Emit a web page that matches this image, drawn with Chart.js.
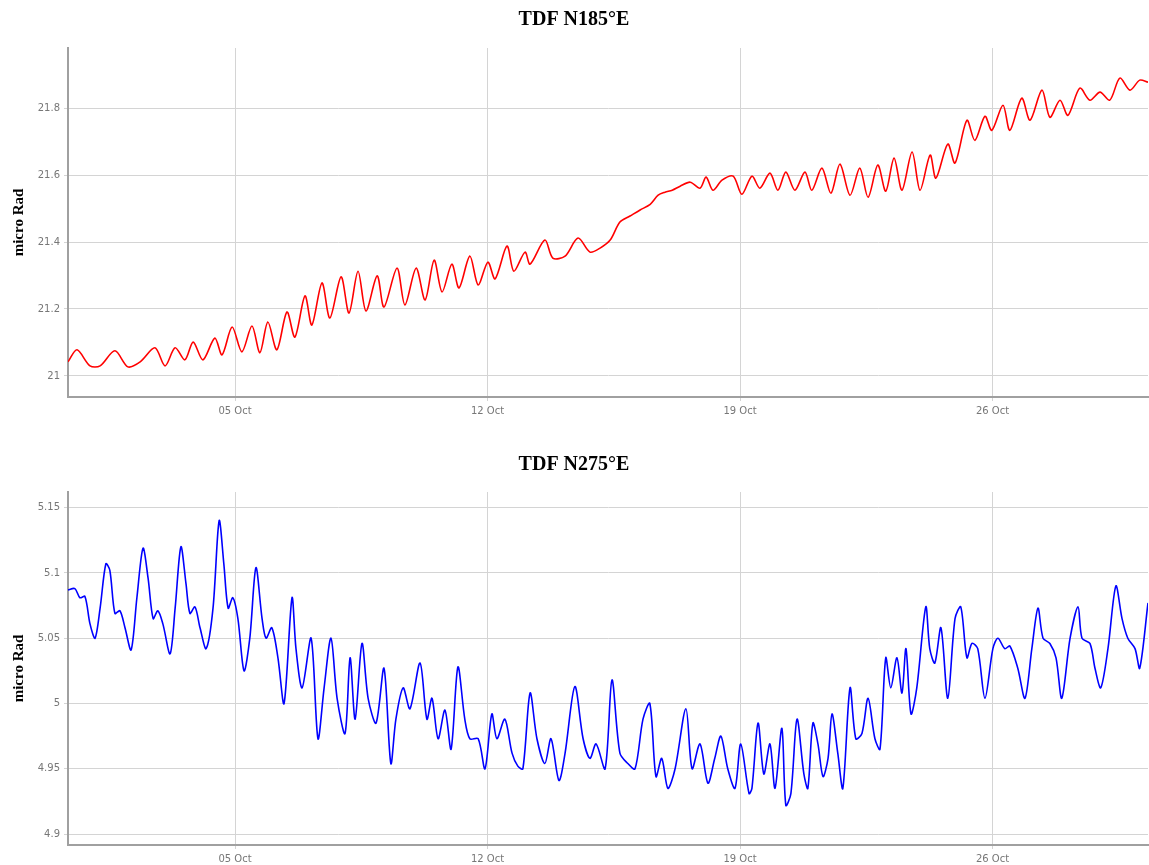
<!DOCTYPE html>
<html>
<head>
<meta charset="utf-8">
<script src="https://cdn.jsdelivr.net/npm/chart.js@4"></script>
<style>
    body { margin: 0; background: #fff; }
    .box { position: absolute; left: 0; width: 1149px; }
    #boxTop { top: 0; height: 430px; }
    #boxBottom { top: 440px; height: 425px; }
</style>
</head>
<body>
<div class="box" id="boxTop"><canvas id="chartTop"></canvas></div>
<div class="box" id="boxBottom"><canvas id="chartBottom"></canvas></div>
<script>
// Tilt records, x in days of October
const xTickDays = [5, 12, 19, 26];
const xTickLabels = ['05 Oct', '12 Oct', '19 Oct', '26 Oct'];

const yTicksTop = [21, 21.2, 21.4, 21.6, 21.8];
const yTicksBottom = [4.9, 4.95, 5, 5.05, 5.1, 5.15];

// N185°E
const daysTop = [0.37, 0.62, 0.98, 1.26, 1.67, 2.03, 2.37, 2.78, 3.06, 3.34, 3.61, 3.84, 4.11, 4.44, 4.64, 4.92,
    5.19, 5.47, 5.69, 5.91, 6.16, 6.44, 6.66, 6.94, 7.13, 7.41, 7.63, 7.94, 8.16, 8.41, 8.63, 8.94, 9.13, 9.49,
    9.71, 10.02, 10.27, 10.52, 10.74, 11.01, 11.21, 11.51, 11.74, 12.01, 12.21, 12.54, 12.73, 13.04, 13.18, 13.59,
    13.81, 14.15, 14.51, 14.84, 15.12, 15.40, 15.67, 15.95, 16.23, 16.51, 16.73, 16.92, 17.12, 17.34, 17.62, 17.89,
    18.06, 18.25, 18.50, 18.81, 19.05, 19.33, 19.55, 19.83, 20.05, 20.27, 20.52, 20.80, 20.99, 21.27, 21.52, 21.77,
    22.05, 22.32, 22.55, 22.82, 23.04, 23.27, 23.49, 23.77, 23.99, 24.27, 24.43, 24.76, 24.96, 25.29, 25.51, 25.79,
    25.98, 26.29, 26.48, 26.81, 27.04, 27.37, 27.59, 27.87, 28.09, 28.42, 28.70, 28.98, 29.25, 29.53, 29.81, 30.08, 30.31];
const tiltTop = [21.042, 21.078, 21.030, 21.030, 21.075, 21.027, 21.042, 21.084, 21.030, 21.084, 21.048, 21.101,
    21.048, 21.113, 21.063, 21.146, 21.072, 21.149, 21.069, 21.161, 21.078, 21.191, 21.116, 21.239, 21.152, 21.278,
    21.173, 21.296, 21.188, 21.313, 21.194, 21.299, 21.206, 21.322, 21.212, 21.322, 21.227, 21.346, 21.251, 21.334,
    21.263, 21.358, 21.272, 21.340, 21.290, 21.388, 21.313, 21.370, 21.334, 21.406, 21.352, 21.358, 21.412, 21.370,
    21.382, 21.406, 21.460, 21.478, 21.496, 21.513, 21.540, 21.549, 21.555, 21.567, 21.579, 21.561, 21.594, 21.555,
    21.585, 21.597, 21.543, 21.597, 21.561, 21.606, 21.555, 21.609, 21.555, 21.609, 21.555, 21.621, 21.546, 21.633,
    21.540, 21.621, 21.534, 21.630, 21.552, 21.651, 21.555, 21.669, 21.555, 21.660, 21.591, 21.693, 21.636, 21.764,
    21.704, 21.776, 21.734, 21.809, 21.734, 21.830, 21.764, 21.854, 21.773, 21.824, 21.779, 21.860, 21.824, 21.848,
    21.824, 21.890, 21.854, 21.884, 21.878];

// N275°E
const daysBottom = [0.37, 0.56, 0.70, 0.84, 0.98, 1.12, 1.26, 1.42, 1.53, 1.67, 1.81, 1.95, 2.12, 2.28, 2.45, 2.59,
    2.73, 2.86, 3.00, 3.20, 3.34, 3.50, 3.64, 3.75, 3.89, 4.03, 4.20, 4.39, 4.56, 4.69, 4.81, 4.94, 5.08, 5.25, 5.41,
    5.58, 5.75, 5.86, 6.02, 6.19, 6.36, 6.58, 6.69, 6.86, 7.11, 7.30, 7.47, 7.66, 7.83, 8.05, 8.19, 8.33, 8.52, 8.69,
    8.91, 9.13, 9.32, 9.46, 9.66, 9.85, 10.13, 10.32, 10.46, 10.63, 10.82, 10.99, 11.18, 11.37, 11.51, 11.74, 11.93,
    12.12, 12.26, 12.48, 12.68, 12.84, 12.98, 13.18, 13.37, 13.59, 13.76, 13.98, 14.15, 14.42, 14.65, 14.84, 15.01,
    15.26, 15.45, 15.67, 15.89, 16.09, 16.31, 16.50, 16.67, 16.83, 17.00, 17.20, 17.50, 17.67, 17.89, 18.11, 18.30,
    18.47, 18.66, 18.86, 19.02, 19.25, 19.33, 19.50, 19.66, 19.83, 19.97, 20.16, 20.27, 20.41, 20.58, 20.77, 20.88,
    21.02, 21.16, 21.30, 21.44, 21.55, 21.71, 21.85, 22.05, 22.21, 22.38, 22.55, 22.74, 22.88, 23.04, 23.18, 23.35,
    23.49, 23.60, 23.74, 23.90, 24.15, 24.26, 24.40, 24.57, 24.76, 24.96, 25.12, 25.29, 25.43, 25.59, 25.79, 26.01,
    26.15, 26.34, 26.48, 26.70, 26.90, 27.09, 27.26, 27.40, 27.59, 27.76, 27.92, 28.15, 28.37, 28.48, 28.70, 28.84,
    29.00, 29.20, 29.42, 29.59, 29.75, 29.95, 30.08, 30.31];
const tiltBottom = [5.087, 5.088, 5.081, 5.082, 5.061, 5.050, 5.073, 5.107, 5.102, 5.069, 5.071, 5.058, 5.041,
    5.081, 5.119, 5.096, 5.065, 5.071, 5.061, 5.038, 5.073, 5.120, 5.092, 5.069, 5.074, 5.058, 5.042, 5.073, 5.140,
    5.107, 5.073, 5.081, 5.065, 5.025, 5.050, 5.104, 5.065, 5.050, 5.058, 5.035, 5.000, 5.081, 5.042, 5.012, 5.050,
    4.973, 5.012, 5.050, 5.004, 4.977, 5.035, 4.988, 5.046, 5.004, 4.985, 5.027, 4.954, 4.988, 5.012, 4.996, 5.031,
    4.988, 5.004, 4.973, 4.995, 4.965, 5.028, 4.988, 4.973, 4.973, 4.950, 4.992, 4.973, 4.988, 4.962, 4.952, 4.950,
    5.008, 4.973, 4.954, 4.973, 4.941, 4.962, 5.013, 4.973, 4.958, 4.969, 4.950, 5.018, 4.962, 4.954, 4.950, 4.988,
    5.000, 4.944, 4.958, 4.935, 4.950, 4.996, 4.950, 4.969, 4.939, 4.958, 4.975, 4.950, 4.935, 4.969, 4.931, 4.935,
    4.985, 4.946, 4.969, 4.935, 4.981, 4.922, 4.931, 4.988, 4.946, 4.935, 4.985, 4.969, 4.944, 4.958, 4.992, 4.962,
    4.935, 5.012, 4.973, 4.977, 5.004, 4.973, 4.965, 5.035, 5.012, 5.035, 5.008, 5.042, 4.992, 5.012, 5.074, 5.042,
    5.031, 5.058, 5.004, 5.065, 5.074, 5.035, 5.046, 5.042, 5.004, 5.042, 5.050, 5.042, 5.044, 5.027, 5.004, 5.042,
    5.073, 5.050, 5.046, 5.035, 5.004, 5.050, 5.074, 5.050, 5.046, 5.027, 5.012, 5.042, 5.090, 5.065, 5.050, 5.042,
    5.027, 5.077];

const gridColor = '#d4d4d4';
const axisColor = '#a0a0a0';
const tickColor = '#777';

function makeTiltChart(canvasId, title, days, values, color, yTicks, yMin, yMax, titlePad, xHeight) {
    const points = days.map((d, i) => ({ x: d, y: values[i] }));
    return new Chart(document.getElementById(canvasId), {
        type: 'line',
        data: {
            datasets: [{
                data: points,
                borderColor: color,
                backgroundColor: 'transparent',
                borderWidth: 1.6,
                pointRadius: 0,
                tension: 0.3
            }]
        },
        options: {
            responsive: true,
            maintainAspectRatio: false,
            animation: false,
            layout: { padding: { left: 0, right: 1, top: 0, bottom: 0 } },
            plugins: {
                legend: { display: false },
                tooltip: { enabled: false },
                title: {
                    display: true,
                    text: title,
                    color: '#000',
                    font: { family: 'Liberation Serif', size: 20, weight: 'bold' },
                    padding: titlePad
                }
            },
            scales: {
                x: {
                    type: 'linear',
                    min: 0.37,
                    max: 30.31,
                    afterBuildTicks: scale => { scale.ticks = xTickDays.map(v => ({ value: v })); },
                    afterFit: scale => { scale.height = xHeight; },
                    ticks: {
                        color: tickColor,
                        maxRotation: 0,
                        padding: 4,
                        font: { family: 'DejaVu Sans', size: 10 },
                        callback: value => xTickLabels[xTickDays.indexOf(value)]
                    },
                    grid: { color: gridColor, tickLength: 4 },
                    border: { color: axisColor, width: 2 }
                },
                y: {
                    min: yMin,
                    max: yMax,
                    afterBuildTicks: scale => { scale.ticks = yTicks.map(v => ({ value: v })); },
                    afterFit: scale => { scale.width = 68; },
                    title: {
                        display: true,
                        text: 'micro Rad',
                        color: '#000',
                        font: { family: 'Liberation Serif', size: 15, weight: 'bold' },
                        padding: { top: 10, bottom: 0 }
                    },
                    ticks: {
                        color: tickColor,
                        padding: 4,
                        font: { family: 'DejaVu Sans', size: 10 },
                        callback: value => String(value)
                    },
                    grid: { color: gridColor, tickLength: 4 },
                    border: { color: axisColor, width: 2 }
                }
            }
        }
    });
}

makeTiltChart('chartTop', 'TDF N185°E', daysTop, tiltTop, '#ff0000', yTicksTop, 20.937, 21.98,
    { top: 8, bottom: 16 }, 33);
makeTiltChart('chartBottom', 'TDF N275°E', daysBottom, tiltBottom, '#0000ff', yTicksBottom, 4.8916, 5.162,
    { top: 13, bottom: 15 }, 20);
</script>
</body>
</html>
